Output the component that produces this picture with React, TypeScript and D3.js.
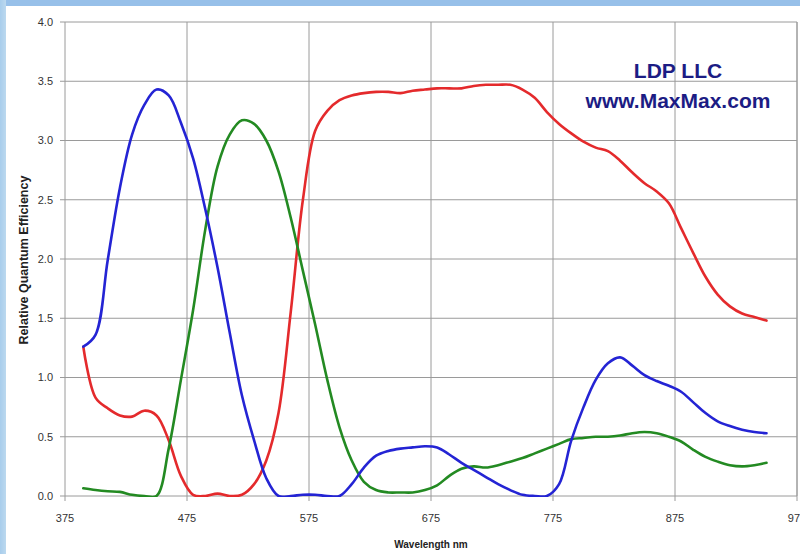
import React from 'react';
import * as d3 from 'd3';

// wavelength samples (nm) shared by all three channels
const wavelengths = [
  390, 400, 410, 420, 430, 440, 450, 460, 470, 480, 490, 500, 510, 520, 530, 540, 550, 560, 570,
  580, 590, 600, 610, 620, 630, 640, 650, 660, 670, 680, 690, 700, 710, 720, 730, 740, 750, 760,
  770, 780, 790, 800, 810, 820, 830, 840, 850, 860, 870, 880, 890, 900, 910, 920, 930, 940, 950,
];

const redQE = [
  1.26, 0.83, 0.74, 0.68, 0.67, 0.72, 0.68, 0.47, 0.17, 0.01, 0.0, 0.02, 0.0, 0.01, 0.1, 0.3, 0.7, 1.55, 2.5,
  3.08, 3.25, 3.34, 3.38, 3.4, 3.41, 3.41, 3.4, 3.42, 3.43, 3.44, 3.44, 3.44, 3.46, 3.47, 3.47, 3.47, 3.43, 3.36,
  3.24, 3.14, 3.06, 2.99, 2.94, 2.91, 2.83, 2.73, 2.64, 2.57, 2.47, 2.26, 2.05, 1.85, 1.7, 1.6, 1.54, 1.51, 1.48,
];

const blueQE = [
  1.26, 1.36, 1.99, 2.6, 3.05, 3.3, 3.43, 3.38, 3.15, 2.85, 2.42, 1.93, 1.38, 0.85, 0.47, 0.15, 0.0, 0.0, 0.01,
  0.01, 0.0, 0.0, 0.1, 0.24, 0.34, 0.38, 0.4, 0.41, 0.42, 0.41, 0.35, 0.28, 0.22, 0.16, 0.1, 0.05, 0.01, 0.0,
  0.0, 0.1, 0.47, 0.75, 0.98, 1.12, 1.17, 1.1, 1.02, 0.97, 0.93, 0.88, 0.79, 0.7, 0.63, 0.59, 0.56, 0.54, 0.53,
];

const greenQE = [
  0.065, 0.05, 0.04, 0.035, 0.01, 0.0, 0.0, 0.4, 0.98, 1.57, 2.25, 2.78, 3.05, 3.17, 3.14, 3.0, 2.74, 2.35, 1.9,
  1.45, 0.98, 0.58, 0.3, 0.12, 0.05, 0.03, 0.03, 0.03, 0.05, 0.09, 0.17, 0.23, 0.25, 0.24, 0.26, 0.29, 0.32, 0.36,
  0.4, 0.44, 0.48, 0.49, 0.5, 0.5, 0.51, 0.53, 0.54, 0.53, 0.5, 0.46, 0.39, 0.33, 0.29, 0.26, 0.25, 0.26, 0.28,
];

const xTicks = [375, 475, 575, 675, 775, 875, 975];
const yTicks = [0, 0.5, 1, 1.5, 2, 2.5, 3, 3.5, 4];

const series = [
  { name: 'Red', values: redQE, color: '#e42a2c' },
  { name: 'Green', values: greenQE, color: '#238a22' },
  { name: 'Blue', values: blueQE, color: '#2424d4' },
];

const W = 800;
const H = 554;
const plot = { left: 65, right: 797, top: 22, bottom: 496 };

export default function App() {
  const x = d3.scaleLinear().domain([375, 975]).range([plot.left, plot.left + 732]);
  const y = d3.scaleLinear().domain([0, 4]).range([plot.bottom, plot.top]);

  const line = d3
    .line<number>()
    .x((_, i) => x(wavelengths[i]))
    .y(d => y(d))
    .curve(d3.curveCatmullRom.alpha(0.5));

  const font = 'Liberation Sans, Arial, sans-serif';

  return (
    <svg
      width={W}
      height={H}
      style={{ position: 'absolute', left: 0, top: 0, background: '#fff' }}
      fontFamily={font}
    >
      <defs>
        <linearGradient id="edge" x1="0" x2="1" y1="0" y2="0">
          <stop offset="0" stopColor="#a8cdec" />
          <stop offset="1" stopColor="#bcd9ef" />
        </linearGradient>
        <clipPath id="plotClip">
          <rect x={plot.left} y={plot.top - 5} width={plot.right - plot.left} height={plot.bottom - plot.top + 6} />
        </clipPath>
      </defs>
      <rect x={0} y={0} width={W} height={6} fill="#97c0e9" />
      <rect x={0} y={0} width={6} height={H} fill="url(#edge)" />

      {/* grid */}
      {yTicks.map(t => (
        <line key={'gy' + t} x1={plot.left - 5} x2={plot.right} y1={y(t)} y2={y(t)} stroke="#9a9a9a" strokeWidth={1} />
      ))}
      {xTicks.map(t => (
        <line key={'gx' + t} x1={x(t)} x2={x(t)} y1={plot.top} y2={plot.bottom + 5} stroke="#9a9a9a" strokeWidth={1} />
      ))}
      <line x1={plot.right} x2={plot.right} y1={plot.top} y2={plot.bottom} stroke="#9a9a9a" />

      {/* watermark */}
      <text x={678} y={78} textAnchor="middle" fontSize={21} fontWeight="bold" fill="#1c1c84">
        LDP LLC
      </text>
      <text x={678} y={108} textAnchor="middle" fontSize={21} fontWeight="bold" fill="#1c1c84">
        www.MaxMax.com
      </text>

      <g clipPath="url(#plotClip)">
        {series.map(s => (
          <path
            key={s.name}
            d={line(s.values) || ''}
            fill="none"
            stroke={s.color}
            strokeWidth={2.6}
            strokeLinejoin="round"
            strokeLinecap="round"
          />
        ))}
      </g>

      {/* tick labels */}
      {yTicks.map(t => (
        <text key={'ty' + t} x={53} y={y(t)} dy="0.35em" textAnchor="end" fontSize={11} fill="#333">
          {t.toFixed(1)}
        </text>
      ))}
      {xTicks.map(t => (
        <text key={'tx' + t} x={x(t)} y={522} textAnchor="middle" fontSize={11} fill="#333">
          {t}
        </text>
      ))}

      <text x={431} y={548} textAnchor="middle" fontSize={10} fontWeight="bold" fill="#222">
        Wavelength nm
      </text>
      <text
        transform={`translate(28, ${(plot.top + plot.bottom) / 2 + 1}) rotate(-90)`}
        textAnchor="middle"
        fontSize={12.5}
        fontWeight="bold"
        fill="#222"
      >
        Relative Quantum Efficiency
      </text>
    </svg>
  );
}
